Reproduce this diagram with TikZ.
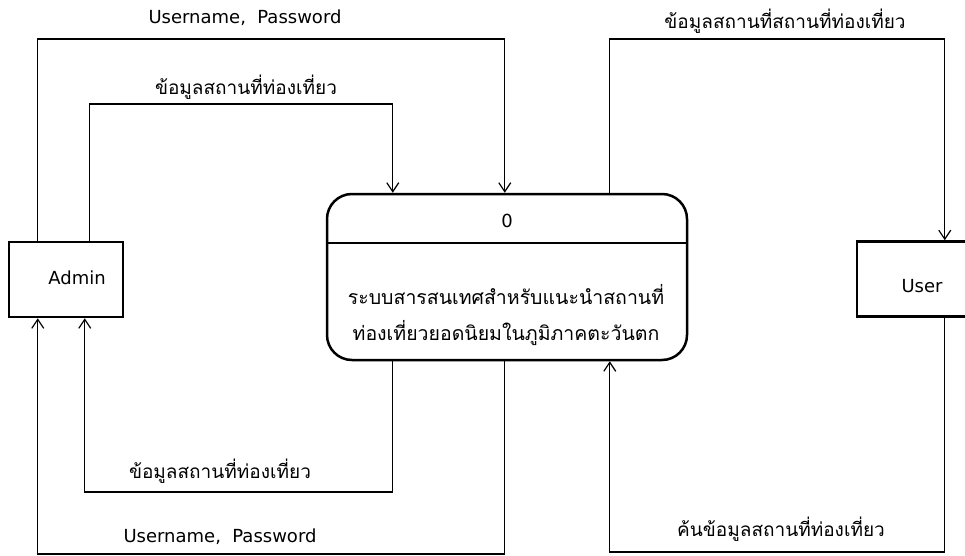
\documentclass[tikz,border=0pt]{standalone}
\usepackage{fontspec}
\setmainfont{DejaVu Sans}
\newfontfamily\thai[Script=Thai]{Loma}
\usetikzlibrary{arrows.meta,calc}
\begin{document}
\begin{tikzpicture}[x=1pt,y=-1pt,
  ent/.style={draw,line width=2.5pt,minimum width=114pt,minimum height=75pt,inner sep=0pt},
  proc/.style={draw,line width=2.5pt,rounded corners=25pt,minimum width=360pt,minimum height=166pt,inner sep=0pt},
  flow/.style={line width=1.2pt,-{Straight Barb[length=9pt,width=12pt,line width=1.2pt]}},
  lat/.style={font=\fontsize{18}{21}\selectfont,inner sep=1pt},
  th/.style={font=\thai\fontsize{19}{22}\selectfont,inner sep=1pt}]
\useasboundingbox (0,0) rectangle (965,556);
\clip (0,0) rectangle (965,556);
\fill[white] (0,0) rectangle (965,556);
\coordinate (ytop) at (0,39);
\coordinate (yin) at (0,104);
\coordinate (ybin) at (0,492);
\coordinate (ybout) at (0,554);
\coordinate (ybr) at (0,552);
\node[ent] (admin) at (66,279.5) {};
\node[lat] (admintxt) at (77,278) {Admin};
\node[ent,minimum width=120pt] (user) at (917,279) {};
\node[lat] (usertxt) at (922,286) {User};
\node[proc] (proc) at (507,277) {};
\draw[line width=1.2pt] ($(proc.west)+(0,-34)$) coordinate (dl) -- ($(proc.east)+(0,-34)$) coordinate (dr);
\node[lat] (zero) at (507,221) {0};
\node[th,font=\thai\fontsize{19.5}{22}\selectfont] (pt1) at (506,295) {ระบบสารสนเทศสำหรับแนะนำสถานที่};
\node[th,font=\thai\fontsize{19.5}{22}\selectfont] (pt2) at (506,333) {ท่องเที่ยวยอดนิยมในภูมิภาคตะวันตก};
% connector anchors
\coordinate (at1) at ($(admin.north west)+(30,0)$);
\coordinate (at2) at ($(admin.north west)+(82,0)$);
\coordinate (ab1) at ($(admin.south west)+(30,0)$);
\coordinate (ab2) at ($(admin.south west)+(77,0)$);
\coordinate (pt1c) at ($(proc.north west)+(67,0)$);
\coordinate (pt2c) at ($(proc.north west)+(179,0)$);
\coordinate (pt3c) at ($(proc.north west)+(284,0)$);
\coordinate (pb1c) at ($(proc.south west)+(67,0)$);
\coordinate (pb2c) at ($(proc.south west)+(179,0)$);
\coordinate (pb3c) at ($(proc.south west)+(284,0)$);
\coordinate (ut) at ($(user.north west)+(89,0)$);
\coordinate (ub) at ($(user.south west)+(89,0)$);
% flows
\draw[flow] (at1) -- (at1 |- ytop) -- (pt2c |- ytop) -- (pt2c);
\draw[flow] (at2) -- (at2 |- yin) -- (pt1c |- yin) -- (pt1c);
\draw[flow] (pt3c) -- (pt3c |- ytop) -- (ut |- ytop) -- (ut);
\draw[flow] (pb1c) -- (pb1c |- ybin) -- (ab2 |- ybin) -- (ab2);
\draw[flow] (pb2c) -- (pb2c |- ybout) -- (ab1 |- ybout) -- (ab1);
\draw[flow] (ub) -- (ub |- ybr) -- (pb3c |- ybr) -- (pb3c);
% labels
\node[lat,fill=white] (l1) at (245,18) {Username,\ \ Password};
\node[th,fill=white] (l2) at (246,87) {ข้อมูลสถานที่ท่องเที่ยว};
\node[th,fill=white] (l3) at (785,21) {ข้อมูลสถานที่สถานที่ท่องเที่ยว};
\node[th,fill=white] (l4) at (220,471) {ข้อมูลสถานที่ท่องเที่ยว};
\node[lat,fill=white] (l5) at (220,537) {Username,\ \ Password};
\node[th,fill=white] (l6) at (781,529) {ค้นข้อมูลสถานที่ท่องเที่ยว};
\end{tikzpicture}
\end{document}
